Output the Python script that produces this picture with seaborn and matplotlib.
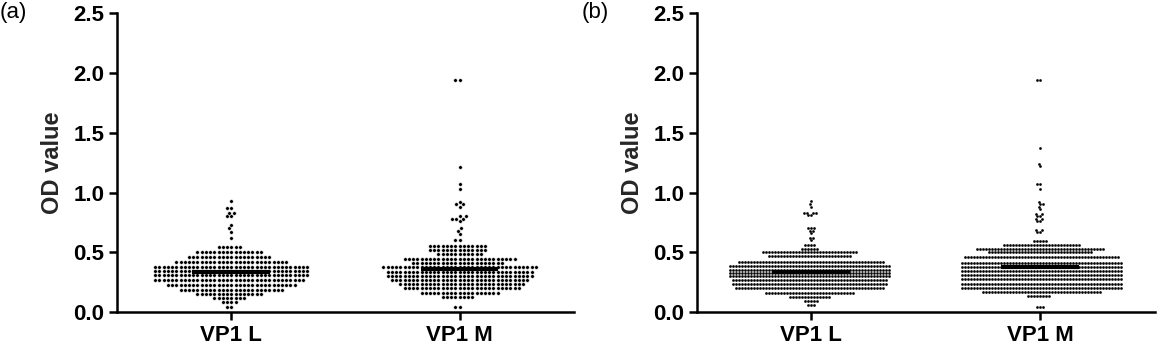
import warnings
warnings.filterwarnings("ignore")
import numpy as np
import pandas as pd
import matplotlib
matplotlib.use("Agg")
import matplotlib.pyplot as plt
import seaborn as sns

sns.set_theme(style="white")
plt.rcParams['font.family'] = ['Liberation Sans', 'DejaVu Sans']

categories = ["VP1 L", "VP1 M"]
panel_labels = ["(a)", "(b)"]
y_ticks = [0.0, 0.5, 1.0, 1.5, 2.0, 2.5]

# ---- panel (a): OD value rows (value, number of samples) + single outliers ----
a_L_rows = [0.045, 0.085, 0.12, 0.155, 0.19, 0.23, 0.27, 0.31, 0.345, 0.38, 0.42, 0.465, 0.50, 0.545]
a_L_counts = [2, 4, 8, 16, 25, 31, 36, 37, 37, 37, 27, 20, 16, 6]
a_L_single = [0.62, 0.67, 0.70, 0.73, 0.80, 0.80, 0.83, 0.83, 0.87, 0.87, 0.93]

a_M_rows = [0.045, 0.13, 0.165, 0.20, 0.235, 0.27, 0.305, 0.34, 0.375, 0.41, 0.445, 0.485, 0.52, 0.555]
a_M_counts = [2, 8, 19, 28, 30, 33, 35, 35, 37, 22, 27, 11, 14, 14]
a_M_single = [0.60, 0.60, 0.65, 0.68, 0.70, 0.76, 0.78, 0.78, 0.78, 0.80, 0.80,
              0.88, 0.90, 0.90, 0.92, 1.03, 1.07, 1.21, 1.94, 1.94]

# ---- panel (b) ----
b_L_rows = [0.06, 0.095, 0.13, 0.165, 0.20, 0.235, 0.27, 0.30, 0.33, 0.355, 0.385, 0.42, 0.47, 0.50, 0.53, 0.56]
b_L_counts = [3, 5, 14, 30, 50, 52, 52, 54, 54, 54, 54, 49, 28, 32, 6, 4]
b_L_single = [0.60, 0.62, 0.62, 0.66, 0.68, 0.68, 0.70, 0.70, 0.70, 0.81, 0.81,
              0.83, 0.83, 0.83, 0.83, 0.88, 0.90, 0.93]

b_M_rows = [0.045, 0.135, 0.17, 0.205, 0.24, 0.275, 0.31, 0.345, 0.375, 0.41, 0.46, 0.50, 0.53, 0.56, 0.595]
b_M_counts = [3, 8, 40, 54, 54, 54, 54, 54, 54, 54, 52, 35, 43, 26, 5]
b_M_single = [0.67, 0.67, 0.69, 0.69, 0.76, 0.76, 0.78, 0.78, 0.80, 0.80, 0.82, 0.82,
              0.86, 0.88, 0.90, 0.90, 0.92, 1.03, 1.07, 1.07, 1.22, 1.24, 1.37, 1.94, 1.94]


def build(rows, counts, single):
    return np.concatenate([np.repeat(rows, counts), np.array(single)])


panels = [
    {"L": build(a_L_rows, a_L_counts, a_L_single), "M": build(a_M_rows, a_M_counts, a_M_single)},
    {"L": build(b_L_rows, b_L_counts, b_L_single), "M": build(b_M_rows, b_M_counts, b_M_single)},
]
marker_sizes = [2.6, 2.0]
marker_edges = [0.3, 0.05]

fig = plt.figure(figsize=(11.71, 3.47), dpi=100)
ax_rects = [[0.1000, 0.100, 0.390, 0.863], [0.595, 0.100, 0.391, 0.863]]
label_x = [0.0, 0.497]

for p, (rect, pdata) in enumerate(zip(ax_rects, panels)):
    ax = fig.add_axes(rect)
    df = pd.DataFrame({
        "group": [categories[0]] * len(pdata["L"]) + [categories[1]] * len(pdata["M"]),
        "value": np.concatenate([pdata["L"], pdata["M"]]),
    })
    sns.swarmplot(data=df, x="group", y="value", order=categories, ax=ax,
                  color="black", size=marker_sizes[p], linewidth=marker_edges[p],
                  edgecolor="white")
    for i, cat in enumerate(categories):
        m = df.loc[df["group"] == cat, "value"].mean()
        ax.hlines(m, i - 0.17, i + 0.17, color="black", lw=3, zorder=5)
    ax.set_xlim(-0.5, 1.5)
    ax.set_ylim(0, 2.5)
    ax.set_yticks(y_ticks)
    ax.set_yticklabels([f"{t:.1f}" for t in y_ticks])
    ax.set_xlabel("")
    ax.set_ylabel("OD value", fontsize=17, fontweight="bold", labelpad=7)
    for s in ["top", "right"]:
        ax.spines[s].set_visible(False)
    for s in ["left", "bottom"]:
        ax.spines[s].set_linewidth(1.8)
        ax.spines[s].set_color("black")
    ax.tick_params(axis="both", which="major", direction="out", length=6, width=1.8,
                   color="black", labelsize=16, pad=3, left=True, bottom=True)
    for lab in ax.get_xticklabels() + ax.get_yticklabels():
        lab.set_fontweight("bold")
        lab.set_color("black")
    ax.set_facecolor("white")
    fig.text(label_x[p], 0.995, panel_labels[p], fontsize=16, ha="left", va="top", color="black")

fig.savefig("out.png", dpi=100, facecolor="white")
